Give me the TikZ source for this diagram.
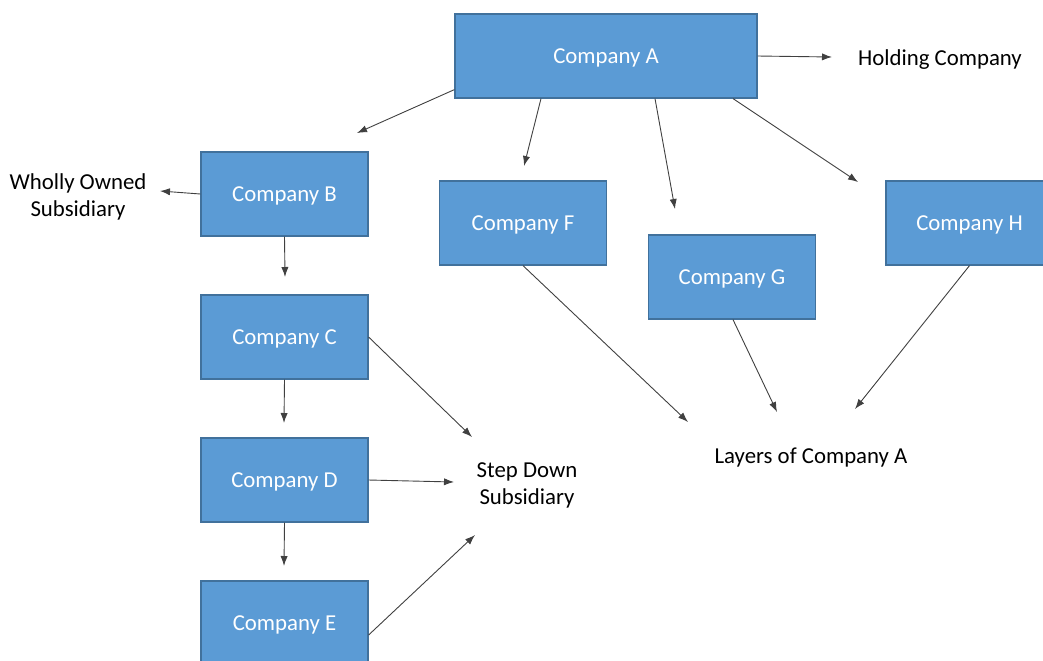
\documentclass[tikz,border=0pt]{standalone}
\usepackage{fontspec}
\setmainfont{Carlito}
\usetikzlibrary{arrows.meta}

\definecolor{boxblue}{HTML}{5B9BD5}
\definecolor{boxedge}{HTML}{41719C}
\definecolor{linkgray}{HTML}{404040}

\tikzset{
  company/.style = {draw = boxedge, fill = boxblue, text = white, line width = 0.6pt,
      minimum width = 83.5pt, minimum height = 42pt, inner sep = 0pt, text depth = 0pt},
  note/.style = {align = center, inner sep = 0pt, text = black, yshift = -1.3pt},
  link/.style = {draw = linkgray, line width = 0.45pt, -{Latex[length = 5pt, width = 3.6pt]}},
}

\begin{document}
\begin{tikzpicture}
  [
    x = 0.5pt, y = -0.5pt,
    font = \fontsize{11.4}{13.5}\selectfont,
  ]

  \useasboundingbox (0,0) rectangle (1043,660);
  \clip (0,0) rectangle (1043,660);

  % boxes
  \node[company, minimum width = 151pt] (A) at (606,56) {Company A};
  \node[company] (B) at (284.5,194) {Company B};
  \node[company] (C) at (284.5,337) {Company C};
  \node[company] (D) at (284.5,480) {Company D};
  \node[company] (E) at (284.5,623) {Company E};
  \node[company] (F) at (523,223) {Company F};
  \node[company] (G) at (732,277) {Company G};
  \node[company] (H) at (969.5,223) {Company H};

  % labels
  \node[note] (holding) at (940,57) {Holding Company};
  \node[note] (wholly) at (78,194) {Wholly Owned\\Subsidiary};
  \node[note] (stepdown) at (527,483) {Step Down\\Subsidiary};
  \node[note] (layers) at (811,455) {Layers of Company A};

  % arrow ends
  \coordinate (toholding) at (832,57);
  \coordinate (toB) at (357,133);
  \coordinate (toF) at (524,166);
  \coordinate (toG) at (675,209);
  \coordinate (toH) at (858,182);
  \coordinate (towholly) at (160,191);
  \coordinate (toC) at (285,277);
  \coordinate (toD) at (284,423);
  \coordinate (toE) at (284,566);
  \coordinate (stepC) at (472,437);
  \coordinate (stepD) at (454,482);
  \coordinate (stepE) at (475,535);
  \coordinate (layF) at (688,422);
  \coordinate (layG) at (777,412);
  \coordinate (layH) at (855,409);

  % connectors
  \draw[link] (A.east) -- (toholding);
  \draw[link] ([shift = {(0,-9)}]A.south west) -- (toB);
  \draw[link] ([shift = {(-65,0)}]A.south) -- (toF);
  \draw[link] ([shift = {(49,0)}]A.south) -- (toG);
  \draw[link] ([shift = {(127,0)}]A.south) -- (toH);

  \draw[link] (B.west) -- (towholly);
  \draw[link] (B.south) -- (toC);
  \draw[link] (C.south) -- (toD);
  \draw[link] (D.south) -- (toE);

  \draw[link] (C.east) -- (stepC);
  \draw[link] (D.east) -- (stepD);
  \draw[link] ([shift = {(0,12)}]E.east) -- (stepE);

  \draw[link] (F.south) -- (layF);
  \draw[link] ([shift = {(1,0)}]G.south) -- (layG);
  \draw[link] (H.south) -- (layH);

\end{tikzpicture}
\end{document}
